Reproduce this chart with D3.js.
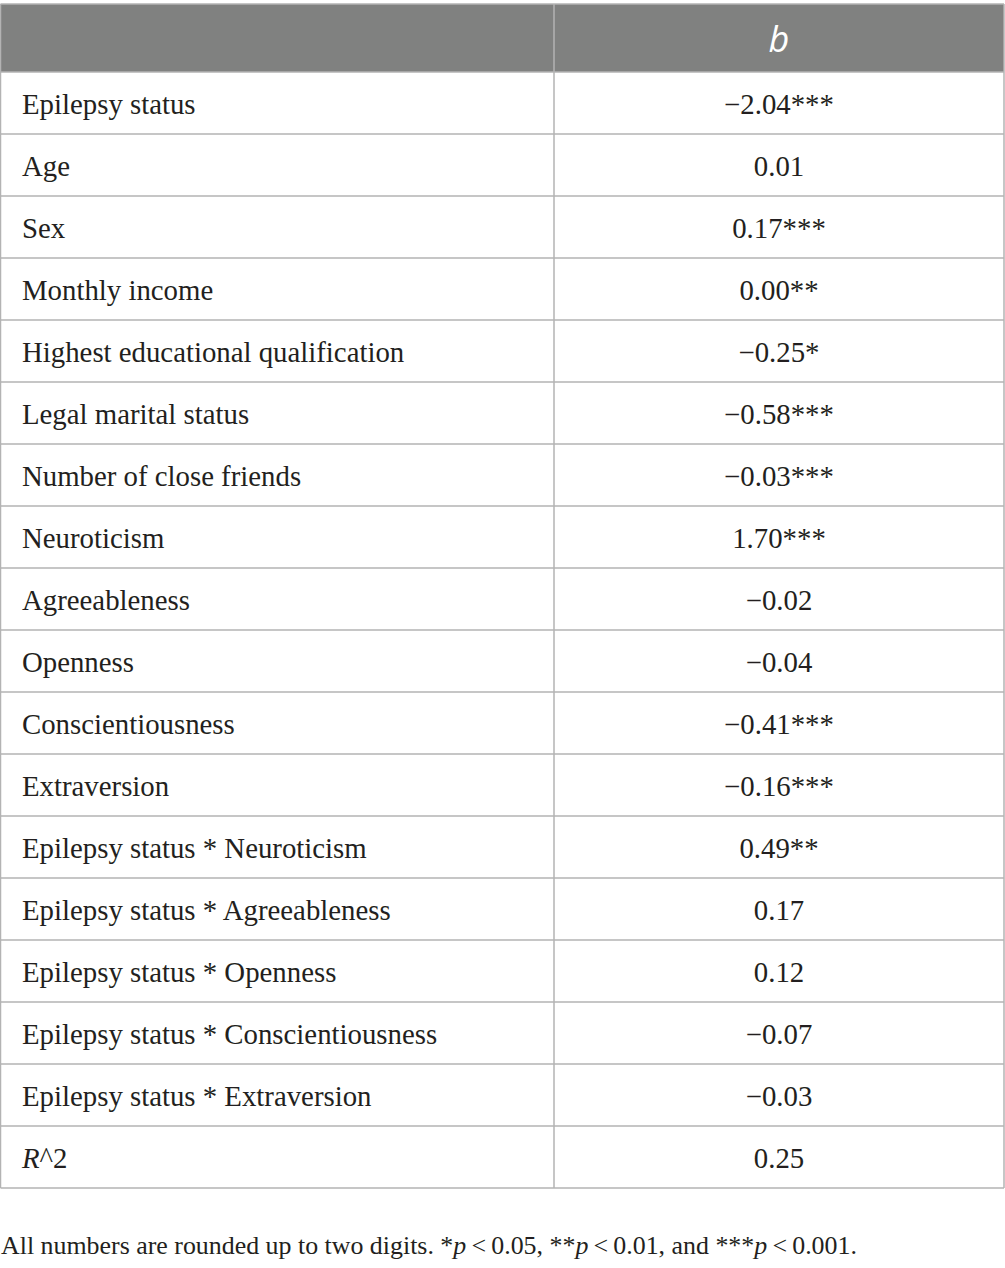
<!DOCTYPE html>
<html>
<head>
<meta charset="utf-8">
<script src="https://cdn.jsdelivr.net/npm/d3@7"></script>
<style>
  body { margin: 0; background: #fff; }
</style>
</head>
<body>
<svg id="tbl" width="1005" height="1268"></svg>
<script>
var predictors = [
  "Epilepsy status", "Age", "Sex", "Monthly income",
  "Highest educational qualification", "Legal marital status",
  "Number of close friends", "Neuroticism", "Agreeableness", "Openness",
  "Conscientiousness", "Extraversion",
  "Epilepsy status * Neuroticism", "Epilepsy status * Agreeableness",
  "Epilepsy status * Openness", "Epilepsy status * Conscientiousness",
  "Epilepsy status * Extraversion", "R^2"
];
var coefs = ["\u22122.04***", "0.01", "0.17***", "0.00**", "\u22120.25*", "\u22120.58***",
  "\u22120.03***", "1.70***", "\u22120.02", "\u22120.04", "\u22120.41***", "\u22120.16***",
  "0.49**", "0.17", "0.12", "\u22120.07", "\u22120.03", "0.25"];
var headerLabel = "b";
var note = "All numbers are rounded up to two digits. *p\u2009<\u20090.05, **p\u2009<\u20090.01, and ***p\u2009<\u20090.001.";

var svg = d3.select("#tbl");
var serif = "'Liberation Serif', 'DejaVu Serif', serif";
var lineCol = "#b3b3b3";
var textCol = "#231f20";

var left = 0.5, right = 1004, divX = 554;
var headTop = 4, headBottom = 72, rowH = 62;

// row positions through a band scale
var y = d3.scaleBand()
  .domain(d3.range(predictors.length))
  .range([headBottom, headBottom + rowH * predictors.length]);

// header
svg.append("rect")
  .attr("x", left).attr("y", headTop)
  .attr("width", right - left).attr("height", headBottom - headTop)
  .attr("fill", "#808180");
svg.append("text")
  .attr("x", (divX + right) / 2).attr("y", 52)
  .attr("text-anchor", "middle")
  .style("font-family", "'Open Sans', 'DejaVu Sans', sans-serif")
  .style("font-style", "italic")
  .style("font-size", "36px")
  .style("fill", "#fff")
  .text(headerLabel);

var rows = svg.selectAll("g.row")
  .data(predictors)
  .enter().append("g")
  .attr("class", "row")
  .attr("transform", function(d, i) { return "translate(0," + y(i) + ")"; });

rows.append("text")
  .attr("x", 22).attr("y", 42)
  .style("font-family", serif)
  .style("font-size", "28.8px")
  .style("fill", textCol)
  .each(function(d) {
    var t = d3.select(this);
    if (d === "R^2") {
      t.append("tspan").style("font-style", "italic").text("R");
      t.append("tspan").text("^2");
    } else {
      t.text(d);
    }
  });

rows.append("text")
  .attr("x", (divX + right) / 2).attr("y", 42)
  .attr("text-anchor", "middle")
  .style("font-family", serif)
  .style("font-size", "28.8px")
  .style("fill", textCol)
  .text(function(d, i) { return coefs[i]; });

// horizontal rules
var bottom = y.range()[1];
var hLines = [headTop].concat(d3.range(predictors.length).map(function(i) { return y(i); })).concat([bottom]);
svg.selectAll("line.h")
  .data(hLines)
  .enter().append("line")
  .attr("class", "h")
  .attr("x1", left).attr("x2", right)
  .attr("y1", function(d) { return d; }).attr("y2", function(d) { return d; })
  .attr("stroke", lineCol).attr("stroke-width", 1.5);

// vertical rules
[left, divX, right].forEach(function(x) {
  svg.append("line")
    .attr("x1", x).attr("x2", x)
    .attr("y1", headTop).attr("y2", bottom)
    .attr("stroke", lineCol).attr("stroke-width", 1.5);
});

// footnote with italic p
var foot = svg.append("text")
  .attr("x", 1).attr("y", 1254)
  .style("font-family", serif)
  .style("font-size", "25.9px")
  .style("fill", textCol);
note.split(/(p)(?=\u2009<)/).forEach(function(part) {
  var ts = foot.append("tspan").text(part);
  if (part === "p") ts.style("font-style", "italic");
});
</script>
</body>
</html>
